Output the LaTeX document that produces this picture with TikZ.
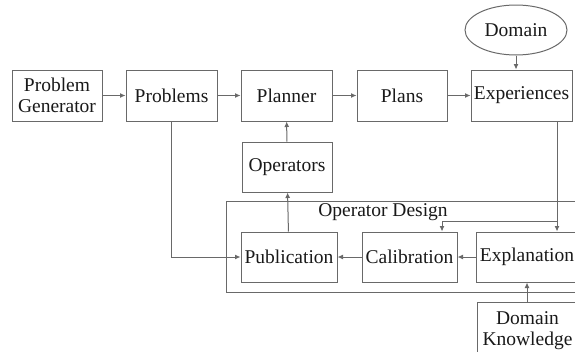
\documentclass[tikz,border=0pt]{standalone}
\usepackage{fontspec}
\setmainfont{Liberation Serif}
\usetikzlibrary{arrows.meta,shapes.geometric}
\definecolor{ln}{RGB}{105,105,105}
\definecolor{tx}{RGB}{25,25,25}
\begin{document}
\begin{tikzpicture}[x=1pt,y=-1pt,
  every node/.style={text=tx,font=\fontsize{19.5}{23}\selectfont,inner sep=0pt},
  box/.style={draw=ln,line width=1pt,rectangle,align=center},
  conn/.style={draw=ln,line width=1pt,-{Latex[length=5.5pt,width=5pt]}},
  plain/.style={draw=ln,line width=1pt}]
\useasboundingbox (0,0) rectangle (575,351);
\clip (0,0) rectangle (575,351);
\fill[white] (0,0) rectangle (575,351);
% operator design frame
\node[box,minimum width=370pt,minimum height=91pt,anchor=north west] (od) at (226,201) {};
\node (odl) at (383,212) {Operator Design};
% top row
\node[box,minimum width=90pt,minimum height=51pt] (pg) at (57,95.5) {Problem\\[-2pt]Generator};
\node[box,minimum width=91pt,minimum height=51pt] (prob) at (171.5,95.5) {Problems};
\node[box,minimum width=91pt,minimum height=51pt] (plan) at (286.5,95.5) {Planner};
\node[box,minimum width=90pt,minimum height=51pt] (plans) at (402,95.5) {Plans};
\node[box,minimum width=101pt,minimum height=51pt] (exp) at (521.5,95.5) {Experiences};
\node[draw=ln,line width=1pt,ellipse,minimum width=102pt,minimum height=50pt] (dom) at (516,30) {Domain};
% middle
\node[box,minimum width=90pt,minimum height=50pt] (ops) at (287,167) {Operators};
\node[box,minimum width=96pt,minimum height=50pt] (pub) at (289,257) {Publication};
\node[box,minimum width=95pt,minimum height=50pt] (cal) at (409.5,257) {Calibration};
\node[box,minimum width=102pt,minimum height=50pt] (expl) at (527,257) {Explanation};
\node[box,minimum width=101pt,minimum height=58pt] (dk) at (527.5,331) {Domain\\[-2pt]Knowledge};
% connectors
\draw[conn] (pg) -- (prob);
\draw[conn] (prob) -- (plan);
\draw[conn] (plan) -- (plans);
\draw[conn] (plans) -- (exp);
\draw[conn] (dom.south) -- (dom.south |- exp.north);
\draw[conn] (ops) -- (plan);
\draw[conn] (pub) -- (ops);
\draw[conn] (prob.south) |- (pub.west);
\draw[conn] (cal) -- (pub);
\draw[conn] (expl) -- (cal);
\coordinate (ed) at (557,121);
\coordinate (br) at (557,221);
\draw[conn] (ed) -- (ed |- expl.north);
\draw[conn] (br) -| (cal.north -| 442,0);
\draw[conn] (dk.north -| expl.south) -- (expl.south);
\end{tikzpicture}
\end{document}
